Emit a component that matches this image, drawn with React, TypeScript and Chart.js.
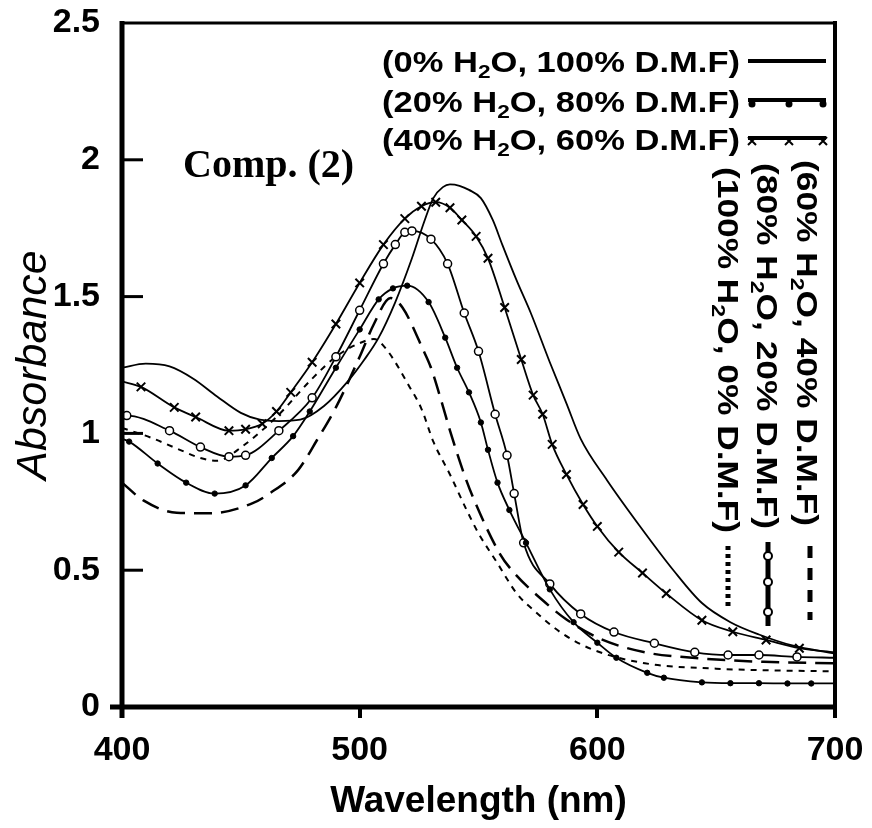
import React, { useEffect, useRef } from 'react';
import { Chart, registerables } from 'chart.js';

Chart.register(...registerables);

// ---- data (wavelength in nm, absorbance) ----
const wl0 = [400, 410, 420, 430, 440, 450, 458, 466, 475, 485, 495, 502, 508, 515, 522, 527, 531, 535, 538, 542, 546, 551, 556, 560, 566, 572, 580, 587, 593, 604, 618, 632, 644, 656, 668, 682, 700];
const abs0 = [1.24, 1.255, 1.245, 1.2, 1.135, 1.075, 1.05, 1.045, 1.05, 1.1, 1.19, 1.27, 1.35, 1.48, 1.64, 1.77, 1.86, 1.9, 1.91, 1.905, 1.89, 1.86, 1.78, 1.69, 1.56, 1.44, 1.26, 1.11, 0.98, 0.83, 0.66, 0.5, 0.38, 0.31, 0.265, 0.225, 0.195];

const wl20 = [400, 403, 415, 427, 439, 452, 463, 472, 479, 490, 500, 508, 514, 520, 529, 536, 541, 546, 551, 554, 558, 563, 570, 580, 590, 600, 608, 621, 628, 644, 656, 668, 680, 690, 700];
const abs20 = [0.98, 0.97, 0.89, 0.82, 0.78, 0.81, 0.91, 0.99, 1.08, 1.24, 1.38, 1.49, 1.53, 1.54, 1.48, 1.35, 1.24, 1.15, 1.04, 0.94, 0.82, 0.72, 0.6, 0.43, 0.31, 0.235, 0.18, 0.125, 0.107, 0.09, 0.087, 0.087, 0.086, 0.086, 0.086];

const wl40 = [400, 408, 422, 431, 445, 452, 459, 465, 471, 480, 490, 500, 510, 519, 526, 532, 538, 543, 549, 554, 561, 568, 573, 577, 581, 587, 594, 600, 609, 619, 629, 644, 657, 671, 685, 700];
const abs40 = [1.19, 1.17, 1.095, 1.06, 1.01, 1.015, 1.035, 1.08, 1.15, 1.26, 1.4, 1.55, 1.69, 1.785, 1.83, 1.845, 1.825, 1.78, 1.72, 1.64, 1.46, 1.27, 1.14, 1.07, 0.96, 0.85, 0.74, 0.66, 0.566, 0.49, 0.415, 0.317, 0.275, 0.245, 0.215, 0.2];

const wl60 = [400, 409, 423, 437, 455, 462, 474, 482, 490, 500, 506, 513, 518, 527, 530, 535, 538, 544, 548, 559, 565, 577, 587, 601, 620, 640, 670, 700];
const abs60 = [0.82, 0.755, 0.71, 0.708, 0.745, 0.78, 0.865, 0.975, 1.095, 1.28, 1.4, 1.495, 1.46, 1.3, 1.24, 1.1, 1.01, 0.85, 0.76, 0.56, 0.49, 0.39, 0.32, 0.25, 0.2, 0.18, 0.165, 0.16];

const wl80 = [400, 402, 420, 433, 445, 452, 466, 480, 490, 500, 510, 515, 519, 522, 530, 537, 544, 550, 557, 562, 565, 569, 580, 593, 607, 624, 641, 655, 668, 684, 700];
const abs80 = [1.06, 1.065, 1.01, 0.95, 0.915, 0.92, 1.01, 1.13, 1.28, 1.45, 1.62, 1.69, 1.735, 1.74, 1.71, 1.62, 1.44, 1.3, 1.07, 0.92, 0.78, 0.6, 0.45, 0.34, 0.274, 0.233, 0.2, 0.19, 0.19, 0.183, 0.18];

const wl100 = [400, 412, 423, 433, 440, 451, 465, 480, 490, 500, 506, 511, 521, 526, 531, 538, 545, 550, 558, 566, 575, 585, 598, 620, 650, 700];
const abs100 = [1.02, 0.985, 0.945, 0.91, 0.9, 0.955, 1.06, 1.2, 1.28, 1.33, 1.345, 1.31, 1.17, 1.09, 0.97, 0.85, 0.72, 0.635, 0.525, 0.416, 0.34, 0.27, 0.21, 0.16, 0.14, 0.13];

const xTickValues = [400, 500, 600, 700];
const yTickValues = [0, 0.5, 1, 1.5, 2, 2.5];
const yTickLabels = ['0', '0.5', '1', '1.5', '2', '2.5'];

// legend texts: [before subscript, subscript, after subscript]
const legendTop = [
  ['(0% H', '2', 'O, 100% D.M.F)'],
  ['(20% H', '2', 'O, 80% D.M.F)'],
  ['(40% H', '2', 'O, 60% D.M.F)'],
];
const legendSide = [
  ['(60% H', '2', 'O, 40% D.M.F)'],
  ['(80% H', '2', 'O, 20% D.M.F)'],
  ['(100% H', '2', 'O, 0% D.M.F)'],
];
const compLabel = 'Comp. (2)';
const xTitle = 'Wavelength (nm)';
const yTitle = 'Absorbance';

const SANS = '"Liberation Sans", Arial, sans-serif';
const SERIF = '"Liberation Serif", "Times New Roman", serif';

const pts = (xs: number[], ys: number[]) => xs.map((x, i) => ({ x, y: ys[i] }));

function drawRich(ctx: CanvasRenderingContext2D, parts: string[], size: number, target: number) {
  const main = `bold ${size}px ${SANS}`;
  const sub = `bold ${Math.round(size * 0.66)}px ${SANS}`;
  ctx.font = main;
  const w0 = ctx.measureText(parts[0]).width;
  const w2 = ctx.measureText(parts[2]).width;
  ctx.font = sub;
  const w1 = ctx.measureText(parts[1]).width;
  const total = w0 + w1 + w2;
  const s = target / total;
  ctx.save();
  ctx.scale(s, 1);
  ctx.fillStyle = '#000';
  ctx.textBaseline = 'alphabetic';
  ctx.textAlign = 'left';
  ctx.font = main;
  ctx.fillText(parts[0], 0, 0);
  ctx.font = sub;
  ctx.fillText(parts[1], w0, size * 0.2);
  ctx.font = main;
  ctx.fillText(parts[2], w0 + w1, 0);
  ctx.restore();
}

function crossMark(ctx: CanvasRenderingContext2D, x: number, y: number, r: number) {
  ctx.beginPath();
  ctx.moveTo(x - r, y - r);
  ctx.lineTo(x + r, y + r);
  ctx.moveTo(x + r, y - r);
  ctx.lineTo(x - r, y + r);
  ctx.stroke();
}

const decorPlugin = {
  id: 'decor',
  afterDraw(chart: any) {
    const ctx: CanvasRenderingContext2D = chart.ctx;
    const ca = chart.chartArea;
    const ys = chart.scales.y;
    ctx.save();
    ctx.strokeStyle = '#000';
    ctx.fillStyle = '#000';
    ctx.lineCap = 'butt';
    // frame
    ctx.lineWidth = 5;
    ctx.beginPath();
    ctx.moveTo(ca.left, ca.top - 2);
    ctx.lineTo(ca.left, ca.bottom + 11);
    ctx.stroke();
    ctx.beginPath();
    ctx.moveTo(ca.left - 12, ca.bottom);
    ctx.lineTo(ca.right + 2, ca.bottom);
    ctx.stroke();
    ctx.lineWidth = 4;
    ctx.beginPath();
    ctx.moveTo(ca.right, ca.top - 2);
    ctx.lineTo(ca.right, ca.bottom + 11);
    ctx.stroke();
    ctx.lineWidth = 3;
    ctx.beginPath();
    ctx.moveTo(ca.left - 2, ca.top);
    ctx.lineTo(ca.right + 2, ca.top);
    ctx.stroke();
    // inward y ticks
    ctx.lineWidth = 3;
    yTickValues.forEach((v) => {
      if (v <= 0 || v >= 2.5) return;
      const py = ys.getPixelForValue(v);
      ctx.beginPath();
      ctx.moveTo(ca.left, py);
      ctx.lineTo(ca.left + 21, py);
      ctx.stroke();
    });

    // Comp. (2)
    ctx.font = `bold 40px ${SERIF}`;
    ctx.textAlign = 'left';
    ctx.textBaseline = 'alphabetic';
    ctx.fillText(compLabel, 183, 177);

    // top legend
    const baselines = [72, 112, 150];
    const lineYs = [61, 100, 138];
    legendTop.forEach((p, i) => {
      ctx.save();
      ctx.translate(382, baselines[i]);
      drawRich(ctx, p, 29, 358);
      ctx.restore();
      ctx.lineWidth = 4;
      ctx.setLineDash([]);
      ctx.beginPath();
      ctx.moveTo(748, lineYs[i]);
      ctx.lineTo(826, lineYs[i]);
      ctx.stroke();
    });
    [752, 789, 823].forEach((x) => {
      ctx.beginPath();
      ctx.arc(x, 104, 3.5, 0, Math.PI * 2);
      ctx.fill();
    });
    ctx.lineWidth = 2;
    [752, 789, 823].forEach((x) => crossMark(ctx, x, 141, 4));

    // side legend (rotated)
    const sideX = [797, 757, 718];
    const sideY = [160, 163, 167];
    legendSide.forEach((p, i) => {
      ctx.save();
      ctx.translate(sideX[i], sideY[i]);
      ctx.rotate(Math.PI / 2);
      drawRich(ctx, p, 29, 366);
      ctx.restore();
    });
    ctx.lineWidth = 5;
    ctx.setLineDash([12, 10]);
    ctx.beginPath();
    ctx.moveTo(810, 546);
    ctx.lineTo(810, 620);
    ctx.stroke();
    ctx.setLineDash([]);
    ctx.beginPath();
    ctx.moveTo(768, 542);
    ctx.lineTo(768, 626);
    ctx.stroke();
    ctx.lineWidth = 2;
    [556, 582, 612].forEach((y) => {
      ctx.beginPath();
      ctx.arc(768, y, 4, 0, Math.PI * 2);
      ctx.fillStyle = '#fff';
      ctx.fill();
      ctx.stroke();
    });
    ctx.fillStyle = '#000';
    ctx.lineWidth = 5;
    ctx.setLineDash([4, 4]);
    ctx.beginPath();
    ctx.moveTo(728, 546);
    ctx.lineTo(728, 608);
    ctx.stroke();
    ctx.setLineDash([]);
    ctx.restore();
  },
};

const markerRadius = (r: number) => (c: any) => {
  const n = c.dataset.data.length;
  return c.dataIndex === 0 || c.dataIndex === n - 1 ? 0 : r;
};

export default function App() {
  const ref = useRef<HTMLCanvasElement | null>(null);
  useEffect(() => {
    if (!ref.current) return;
    const chart = new Chart(ref.current, {
      type: 'line',
      data: {
        datasets: [
          {
            label: '0% H2O',
            data: pts(wl0, abs0),
            borderColor: '#000',
            borderWidth: 1.8,
            pointRadius: 0,
            cubicInterpolationMode: 'monotone',
          },
          {
            label: '20% H2O',
            data: pts(wl20, abs20),
            borderColor: '#000',
            borderWidth: 1.8,
            pointStyle: 'circle',
            pointRadius: markerRadius(2.7),
            pointBackgroundColor: '#000',
            pointBorderColor: '#000',
            pointBorderWidth: 1,
            cubicInterpolationMode: 'monotone',
          },
          {
            label: '40% H2O',
            data: pts(wl40, abs40),
            borderColor: '#000',
            borderWidth: 1.8,
            pointStyle: 'crossRot',
            pointRadius: markerRadius(6),
            pointBorderColor: '#000',
            pointBorderWidth: 2,
            cubicInterpolationMode: 'monotone',
          },
          {
            label: '60% H2O',
            data: pts(wl60, abs60),
            borderColor: '#000',
            borderWidth: 2.5,
            borderDash: [18, 9],
            pointRadius: 0,
            cubicInterpolationMode: 'monotone',
          },
          {
            label: '80% H2O',
            data: pts(wl80, abs80),
            borderColor: '#000',
            borderWidth: 1.8,
            pointStyle: 'circle',
            pointRadius: markerRadius(4),
            pointBackgroundColor: '#fff',
            pointBorderColor: '#000',
            pointBorderWidth: 1.5,
            cubicInterpolationMode: 'monotone',
          },
          {
            label: '100% H2O',
            data: pts(wl100, abs100),
            borderColor: '#000',
            borderWidth: 2,
            borderDash: [6, 6],
            pointRadius: 0,
            cubicInterpolationMode: 'monotone',
          },
        ],
      },
      options: {
        responsive: false,
        animation: false,
        layout: { padding: { top: 23, right: 37, left: 0, bottom: 0 } },
        plugins: { legend: { display: false }, tooltip: { enabled: false } },
        scales: {
          x: {
            type: 'linear',
            min: 400,
            max: 700,
            afterFit: (s: any) => {
              s.height = 121;
              s.paddingLeft = 0;
              s.paddingRight = 0;
              s.paddingTop = 0;
              s.paddingBottom = 0;
            },
            afterBuildTicks: (s: any) => { s.ticks = xTickValues.map((v) => ({ value: v })); },
            border: { display: false },
            grid: { drawOnChartArea: false, drawTicks: true, tickLength: 11, lineWidth: 4, color: '#000' },
            ticks: { color: '#000', padding: 12, font: { family: SANS, size: 34, weight: 'bold' } },
            title: { display: true, text: xTitle, color: '#000', padding: { top: 0, bottom: 4 }, font: { family: SANS, size: 37, weight: 'bold' } },
          },
          y: {
            min: 0,
            max: 2.5,
            afterFit: (s: any) => {
              s.width = 122;
              s.paddingLeft = 0;
              s.paddingRight = 0;
              s.paddingTop = 0;
              s.paddingBottom = 0;
            },
            afterBuildTicks: (s: any) => { s.ticks = yTickValues.map((v) => ({ value: v })); },
            border: { display: false },
            grid: { display: false, drawTicks: false },
            ticks: {
              color: '#000',
              padding: 22,
              font: { family: SANS, size: 34, weight: 'bold' },
              callback: (v: any) => yTickLabels[yTickValues.indexOf(Number(v))] ?? '',
            },
            title: { display: true, text: yTitle, color: '#000', padding: { top: 8, bottom: 0 }, font: { family: SANS, size: 43, style: 'italic', weight: 'normal' } },
          },
        },
      },
      plugins: [decorPlugin],
    } as any);
    return () => chart.destroy();
  }, []);
  return (
    <div style={{ position: 'absolute', left: 0, top: 0, width: 872, height: 828, background: '#fff' }}>
      <canvas ref={ref} width={872} height={828} style={{ display: 'block' }} />
    </div>
  );
}
